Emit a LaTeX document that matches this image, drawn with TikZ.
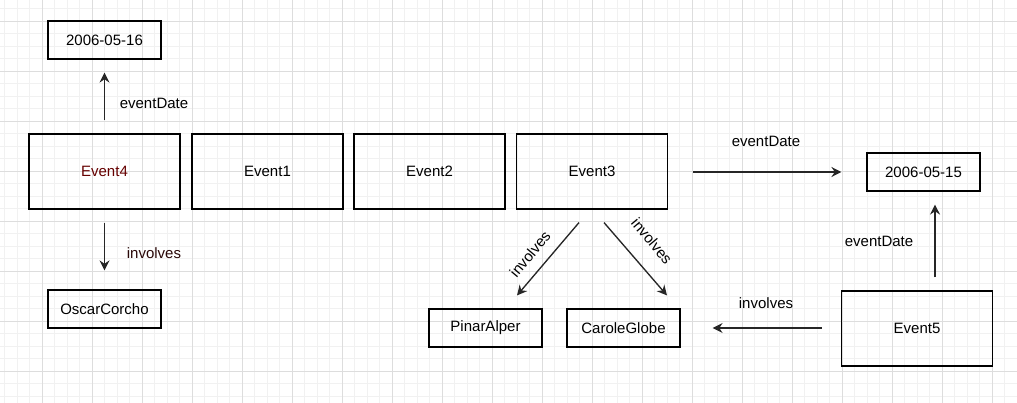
\documentclass[tikz,border=0pt]{standalone}
\usepackage{fontspec}
\setmainfont{Liberation Sans}
\usepackage{tikz}
\usetikzlibrary{arrows.meta, calc}
\definecolor{gridminor}{HTML}{F1F1F1}
\definecolor{gridmajor}{HTML}{DDDDDD}
\definecolor{darkred}{HTML}{660000}
\definecolor{brownred}{HTML}{2A0808}

\tikzset{
	bigbox/.style={draw=black, line width=0.85pt, minimum width=113.25pt, minimum height=56.25pt, inner sep=0pt},
	smallbox/.style={draw=black, line width=0.85pt, minimum width=84.75pt, minimum height=28.5pt, inner sep=0pt},
	arr/.style={line width=1pt, draw=black!85, -{Stealth[length=7.5pt, width=7.5pt, inset=2.5pt]}},
	lbl/.style={inner sep=0pt}
}

\begin{document}
\begin{tikzpicture}[x=0.75pt, y=-0.75pt, font=\fontsize{11.25}{13.5}\selectfont]

	\useasboundingbox (0,0) rectangle (1017,403);
	\fill[white] (0,0) rectangle (1017,403);

	% background grid
	\foreach \gx in {4.5,17,...,1017}
		\draw[gridminor, line width=0.6pt] (\gx,0) -- (\gx,403);
	\foreach \gy in {8.5,21,...,403}
		\draw[gridminor, line width=0.6pt] (0,\gy) -- (1017,\gy);
	\foreach \gx in {42,92,...,1017}
		\draw[gridmajor, line width=0.6pt] (\gx,0) -- (\gx,403);
	\foreach \gy in {21,71,...,403}
		\draw[gridmajor, line width=0.6pt] (0,\gy) -- (1017,\gy);

	% events
	\node[bigbox, text=darkred] (e4) at (104.5,171.5) {Event4};
	\node[bigbox] (e1) at (267.5,171.5) {Event1};
	\node[bigbox] (e2) at (429.5,171.5) {Event2};
	\node[bigbox] (e3) at (592,171.5) {Event3};
	\node[bigbox] (e5) at (917,328.5) {Event5};

	% values
	\node[smallbox] (d16) at (104.5,40) {2006-05-16};
	\node[smallbox] (oscar) at (104.5,309) {OscarCorcho};
	\node[smallbox] (pinar) at (485.5,328) {PinarAlper};
	\node[smallbox] (carole) at (623.5,328) {CaroleGlobe};
	\node[smallbox] (d15) at (923.5,172) {2006-05-15};

	% properties
	\draw[arr] ($(e4.north)+(0,-13)$) -- ($(d16.south)+(0,13)$);
	\draw[arr] ($(e4.south)+(0,13)$) -- ($(oscar.north)+(0,-19)$);
	\draw[arr] ($(e3.south)+(-13,13)$) -- ($(pinar.north)+(31.5,-13)$);
	\draw[arr] ($(e3.south)+(12,13)$) -- ($(carole.north)+(43.5,-13)$);
	\draw[arr] ($(e3.east)+(25,0.5)$) -- ($(d15.west)+(-25,0)$);
	\draw[arr] ($(e5.north)+(18,-13)$) -- ($(d15.south)+(11.5,13)$);
	\draw[arr] ($(e5.west)+(-19,-0.5)$) -- ($(carole.east)+(32,0)$);

	\node[lbl] (l1) at (154,103) {eventDate};
	\node[lbl, text=brownred] (l2) at (154,253) {involves};
	\node[lbl, rotate=50] (l3) at (530,254) {involves};
	\node[lbl, rotate=-50] (l4) at (652,241) {involves};
	\node[lbl] (l5) at (766,141) {eventDate};
	\node[lbl] (l6) at (879,241) {eventDate};
	\node[lbl] (l7) at (766,303) {involves};

\end{tikzpicture}
\end{document}
